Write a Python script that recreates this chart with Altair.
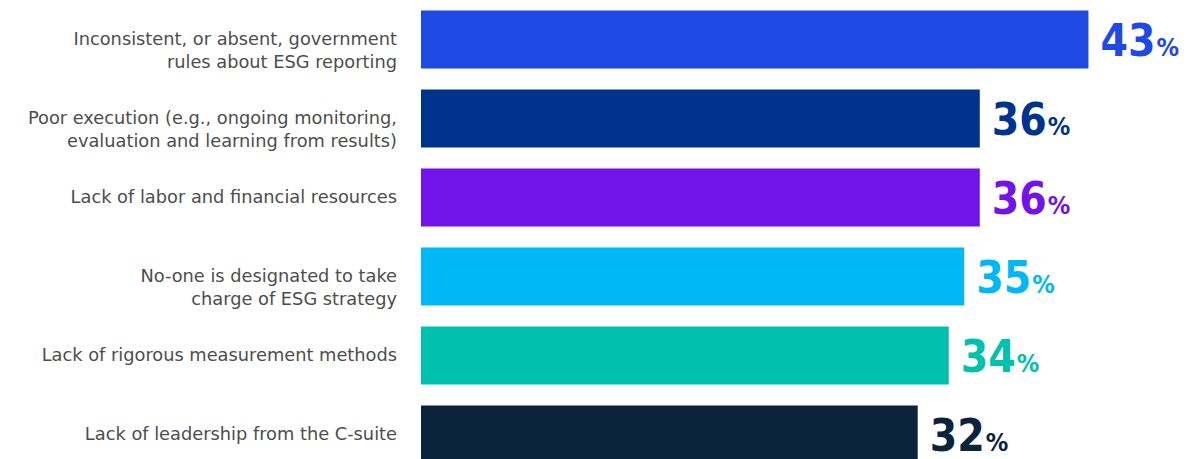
import altair as alt
import pandas as pd

categories = [
    "Inconsistent, or absent, government\nrules about ESG reporting",
    "Poor execution (e.g., ongoing monitoring,\nevaluation and learning from results)",
    "Lack of labor and financial resources",
    "No-one is designated to take\ncharge of ESG strategy",
    "Lack of rigorous measurement methods",
    "Lack of leadership from the C-suite",
]
values = [43, 36, 36, 35, 34, 32]
colors = ["#1E49E2", "#00338D", "#7213EA", "#00B8F5", "#00C0AE", "#0C233C"]

df = pd.DataFrame({"cat": categories, "value": values, "color": colors})
df["num"] = df["value"].astype(str)
df["pct"] = "%"

y = alt.Y("cat:N", sort=None, axis=None,
          scale=alt.Scale(paddingInner=0.266, paddingOuter=0.133))
x = alt.X("value:Q", axis=None, scale=alt.Scale(domain=[0, 49.8]))
col = alt.Color("color:N", scale=None, legend=None)

base = alt.Chart(df)

bars = base.mark_bar(cornerRadius=0).encode(y=y, x=x, color=col)

labels = base.mark_text(align="right", baseline="middle", lineBreak="\n",
                        font="DejaVu Sans", fontSize=17.8,
                        color="#4d4d4d", lineHeight=23).encode(
    y=y, x=alt.value(-24), text="cat:N")

numfont = "DejaVu Sans Condensed, DejaVu Sans, sans-serif"

nums = base.mark_text(align="left", baseline="alphabetic", dx=12, dy=16,
                      font=numfont, fontWeight="bold", fontSize=44).encode(
    y=y, x=x, text="num:N", color=col)

pcts = base.mark_text(align="left", baseline="alphabetic", dx=68, dy=16,
                      font=numfont, fontWeight="bold", fontSize=25).encode(
    y=y, x=x, text="pct:N", color=col)

chart = alt.layer(bars, labels, nums, pcts).properties(
    width=773, height=474,
    autosize=alt.AutoSizeParams(type="none"),
    padding={"left": 421, "top": 0, "right": 0, "bottom": 0},
    background="#ffffff",
).configure_view(stroke=None)

chart.save("out.html", embed_options={"renderer": "svg", "actions": False})
